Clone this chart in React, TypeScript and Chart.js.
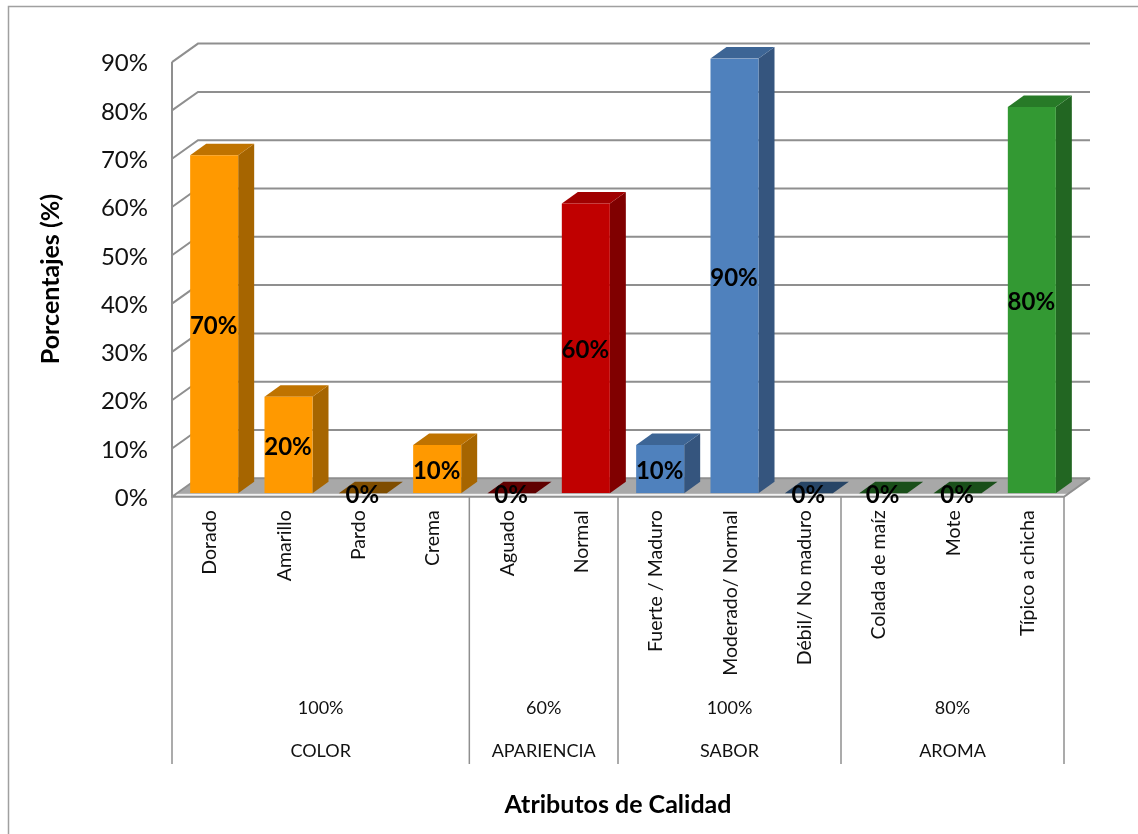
import React, { useEffect, useRef } from "react";
import { Chart, registerables } from "chart.js";

Chart.register(...registerables);

const categories = [
  "Dorado", "Amarillo", "Pardo", "Crema",
  "Aguado", "Normal",
  "Fuerte / Maduro", "Moderado/ Normal", "Débil/ No maduro",
  "Colada de maíz", "Mote", "Típico a chicha",
];
const percentages = [70, 20, 0, 10, 0, 60, 10, 90, 0, 0, 0, 80];
const yTicks = [0, 10, 20, 30, 40, 50, 60, 70, 80, 90];

const groupNames = ["COLOR", "APARIENCIA", "SABOR", "AROMA"];
const groupTotals = ["100%", "60%", "100%", "80%"];
const groupSizes = [4, 2, 3, 3];

const frontColors = ["#FF9900", "#C00000", "#4F81BD", "#339933"];
const sideColors = ["#A66500", "#800000", "#35557E", "#226622"];
const topColors = ["#BF7300", "#A00000", "#3D6595", "#277A27"];
const flatColors = ["#7F4D00", "#600000", "#274566", "#1A4F1A"];

const yTitle = "Porcentajes (%)";
const xTitle = "Atributos de Calidad";

const FONT = "Lato, Carlito, sans-serif";
const GRID = "#8F8F8F";

// Index of the attribute group each category belongs to.
const groupOf = groupSizes.flatMap((n, g) => Array(n).fill(g));

// Draws the box around the chart, the perspective walls and floor, and the side/top bar faces.
const scenePlugin = {
  id: "scene",
  beforeDatasetsDraw(chart: any) {
    const { ctx, scales } = chart;
    const y = scales.y;
    const x = scales.x;
    const frontLeft = x.left - 5;
    const frontRight = x.right - 5;
    const dx = 26;
    const dy = 18.5;
    const lift = 3.5;

    ctx.save();
    // Outer chart border, cut off by the page on the right and bottom
    ctx.strokeStyle = "#A0A0A0";
    ctx.lineWidth = 1.5;
    ctx.beginPath();
    ctx.moveTo(8.5, chart.height);
    ctx.lineTo(8.5, 6.5);
    ctx.lineTo(chart.width, 6.5);
    ctx.stroke();

    // Floor
    const floorY = y.getPixelForValue(0) + lift;
    ctx.fillStyle = "#A8A8A8";
    ctx.beginPath();
    ctx.moveTo(frontLeft, floorY);
    ctx.lineTo(frontLeft + dx, floorY - dy);
    ctx.lineTo(frontRight + dx, floorY - dy);
    ctx.lineTo(frontRight, floorY);
    ctx.closePath();
    ctx.fill();
    ctx.fillStyle = "#F2F2F2";
    ctx.fillRect(frontLeft + 4, floorY - 3, frontRight - frontLeft, 2.5);

    // Gridlines on the back wall and side wall
    ctx.strokeStyle = GRID;
    ctx.lineWidth = 2;
    yTicks.forEach((v) => {
      const py = y.getPixelForValue(v) + lift;
      ctx.beginPath();
      ctx.moveTo(frontLeft, py);
      ctx.lineTo(frontLeft + dx, py - dy);
      ctx.lineTo(frontRight + dx, py - dy);
      ctx.stroke();
    });
    // Left wall edge and front floor outline
    ctx.beginPath();
    ctx.moveTo(frontLeft, y.getPixelForValue(90) + lift);
    ctx.lineTo(frontLeft, floorY);
    ctx.lineTo(frontRight, floorY);
    ctx.lineTo(frontRight + dx, floorY - dy);
    ctx.stroke();

    // Group dividers below the floor
    let start = 0;
    const dividerAt = (idx: number) => frontLeft + (idx * (frontRight - frontLeft)) / categories.length;
    const drawDivider = (px: number) => {
      ctx.strokeStyle = GRID;
      ctx.lineWidth = 1.5;
      ctx.beginPath();
      ctx.moveTo(px, floorY);
      ctx.lineTo(px, 764);
      ctx.stroke();
    };
    drawDivider(dividerAt(0));
    ctx.font = `18px ${FONT}`;
    ctx.fillStyle = "#111";
    ctx.textAlign = "center";
    ctx.textBaseline = "middle";
    groupSizes.forEach((n, g) => {
      const end = start + n;
      drawDivider(dividerAt(end));
      const cx = (dividerAt(start) + dividerAt(end)) / 2;
      ctx.fillStyle = "#111";
      ctx.fillText(groupTotals[g], cx, 708.5);
      ctx.fillText(groupNames[g], cx, 751.5);
      start = end;
    });

    // Axis titles
    ctx.font = `bold 25px ${FONT}`;
    ctx.fillStyle = "#000";
    ctx.fillText(xTitle, 618, 805);
    ctx.save();
    ctx.translate(51, 279);
    ctx.rotate(-Math.PI / 2);
    ctx.fillText(yTitle, 0, 0);
    ctx.restore();

    // Side and top faces of every bar
    const bd = 16;
    const bh = 11.5;
    chart.getDatasetMeta(0).data.forEach((bar: any, i: number) => {
      const g = groupOf[i];
      const left = bar.x - bar.width / 2;
      const right = bar.x + bar.width / 2;
      const top = bar.y;
      const base = bar.base;
      ctx.fillStyle = sideColors[g];
      ctx.beginPath();
      ctx.moveTo(right, top);
      ctx.lineTo(right + bd, top - bh);
      ctx.lineTo(right + bd, base - bh);
      ctx.lineTo(right, base);
      ctx.closePath();
      ctx.fill();
      ctx.fillStyle = percentages[i] === 0 ? flatColors[g] : topColors[g];
      ctx.beginPath();
      ctx.moveTo(left, top);
      ctx.lineTo(left + bd, top - bh);
      ctx.lineTo(right + bd, top - bh);
      ctx.lineTo(right, top);
      ctx.closePath();
      ctx.fill();
    });
    ctx.restore();
  },
  afterDatasetsDraw(chart: any) {
    const { ctx } = chart;
    ctx.save();
    ctx.font = `bold 24px ${FONT}`;
    ctx.fillStyle = "#000";
    ctx.textAlign = "center";
    ctx.textBaseline = "middle";
    chart.getDatasetMeta(0).data.forEach((bar: any, i: number) => {
      ctx.fillText(`${percentages[i]}%`, bar.x - 0.5, (bar.y + bar.base) / 2 + 2);
    });
    ctx.restore();
  },
};

export default function App() {
  const ref = useRef<HTMLCanvasElement>(null);

  useEffect(() => {
    const chart = new Chart(ref.current as HTMLCanvasElement, {
      type: "bar",
      data: {
        labels: categories,
        datasets: [
          {
            data: percentages,
            backgroundColor: groupOf.map((g) => frontColors[g]),
            barPercentage: 0.646,
            categoryPercentage: 1,
          },
        ],
      },
      options: {
        responsive: false,
        animation: false,
        events: [],
        layout: { padding: { top: 58.6, right: 69, bottom: 0, left: 0 } },
        plugins: { legend: { display: false }, title: { display: false }, tooltip: { enabled: false } },
        scales: {
          x: {
            grid: { display: false, drawTicks: false },
            border: { display: false },
            afterFit: (s: any) => {
              s.height = 340.7;
            },
            ticks: {
              autoSkip: false,
              minRotation: 90,
              maxRotation: 90,
              padding: 17,
              labelOffset: -4,
              color: "#111",
              font: { family: FONT, size: 19.5 },
            },
          },
          y: {
            min: 0,
            max: 90,
            grid: { display: false, drawTicks: false },
            border: { display: false },
            afterFit: (s: any) => {
              s.width = 177;
            },
            afterBuildTicks: (s: any) => {
              s.ticks = yTicks.map((value) => ({ value }));
            },
            ticks: {
              padding: 29,
              labelOffset: 5,
              color: "#111",
              font: { family: FONT, size: 24 },
              callback: (v: any) => `${v}%`,
            },
          },
        },
      },
      plugins: [scenePlugin],
    } as any);
    return () => chart.destroy();
  }, []);

  return (
    <div style={{ position: "absolute", left: 0, top: 0, width: 1138, height: 834, overflow: "hidden", background: "#fff" }}>
      <canvas ref={ref} width={1138} height={834} style={{ display: "block" }} />
    </div>
  );
}
